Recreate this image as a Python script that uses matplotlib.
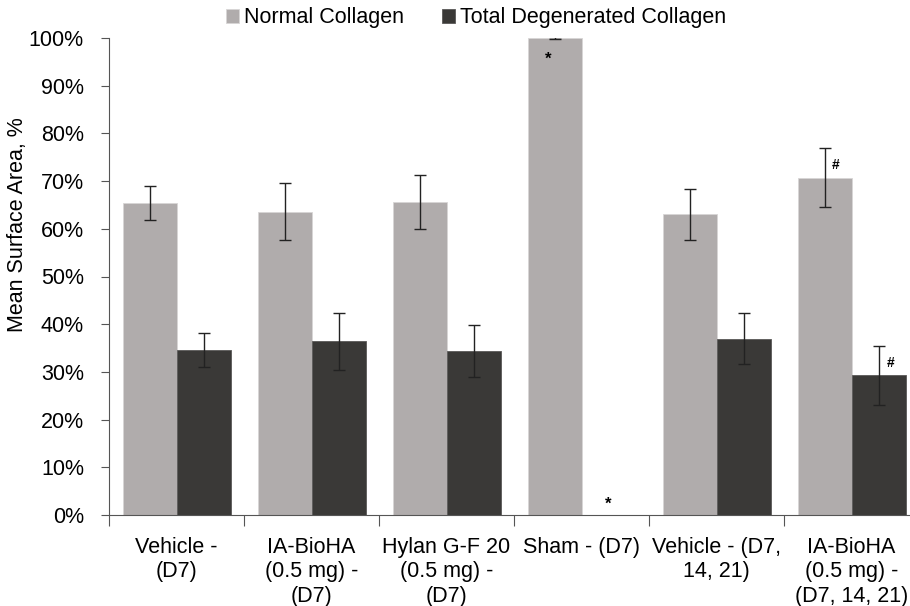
import numpy as np
import matplotlib.pyplot as plt
from matplotlib.ticker import PercentFormatter

groups = ["Vehicle -\n(D7)", "IA-BioHA\n(0.5 mg) -\n(D7)", "Hylan G-F 20\n(0.5 mg) -\n(D7)",
          "Sham - (D7)", "Vehicle - (D7,\n14, 21)", "IA-BioHA\n(0.5 mg) -\n(D7, 14, 21)"]
normal = [65.4, 63.6, 65.6, 100.0, 63.0, 70.7]
normal_err = [3.5, 6.0, 5.6, 0.2, 5.4, 6.2]
degen = [34.6, 36.4, 34.4, 0.0, 37.0, 29.3]
degen_err = [3.5, 6.0, 5.5, 0.0, 5.4, 6.2]

plt.rcParams['font.family'] = ['Liberation Sans', 'DejaVu Sans']

fig = plt.figure(figsize=(9.1, 6.06), dpi=100)
ax = fig.add_axes([109/910, 1 - 515/606, 810/910, 477/606])

x = np.arange(len(groups))
w = 0.4
ax.bar(x - w/2, normal, w, color='#b0acac', edgecolor='#d8d6d6', linewidth=0.6,
       label='Normal Collagen', zorder=2)
ax.bar(x + w/2, degen, w, color='#3a3937', edgecolor='#5a5958', linewidth=0.6,
       label='Total Degenerated Collagen', zorder=2)
ax.errorbar(x - w/2, normal, yerr=normal_err, fmt='none', ecolor='#222222',
            elinewidth=1, capsize=4, capthick=1, zorder=3)
has_err = [i for i in range(len(groups)) if degen[i] > 0]
ax.errorbar(x[has_err] + w/2, np.array(degen)[has_err], yerr=np.array(degen_err)[has_err],
            fmt='none', ecolor='#222222', elinewidth=1, capsize=4, capthick=1, zorder=3)

# significance marks
ax.text(3 - w/2 - 0.05, 95.5, '*', ha='center', va='center', fontsize=12, fontweight='bold')
ax.text(3 + w/2, 2.3, '*', ha='center', va='center', fontsize=12, fontweight='bold')
ax.text(5 - w/2 + 0.08, 73.4, '#', ha='center', va='center', fontsize=10, fontweight='bold')
ax.text(5 + w/2 + 0.09, 31.9, '#', ha='center', va='center', fontsize=10, fontweight='bold')

ax.set_xlim(-0.5, len(groups) - 0.5)
ax.set_ylim(0, 100)
ax.set_yticks(np.arange(0, 101, 10))
ax.yaxis.set_major_formatter(PercentFormatter(decimals=0))
ax.set_xticks(np.arange(-0.5, len(groups), 1.0))
ax.set_xticklabels([])
ax.set_xticks(x, minor=True)
ax.set_xticklabels(groups, minor=True, fontsize=15.5, linespacing=1.2)
ax.tick_params(axis='x', which='minor', length=0, pad=16)
ax.tick_params(axis='x', which='major', length=8, direction='out', color='#555555')
ax.tick_params(axis='y', length=6, direction='out', labelsize=15.5, color='#555555', pad=12)
for s in ['top', 'right']:
    ax.spines[s].set_visible(False)
for s in ['left', 'bottom']:
    ax.spines[s].set_color('#555555')
ax.set_ylabel('Mean Surface Area, %', fontsize=15.5)
ax.yaxis.set_label_coords(-0.1, 0.608)

fig.legend(loc='center', bbox_to_anchor=(476/910, 1 - 18/606), ncol=2, frameon=False,
           fontsize=15.5, handlelength=0.6, handleheight=0.6, handletextpad=0.2,
           columnspacing=1.8)

fig.savefig('out.png', dpi=100)
